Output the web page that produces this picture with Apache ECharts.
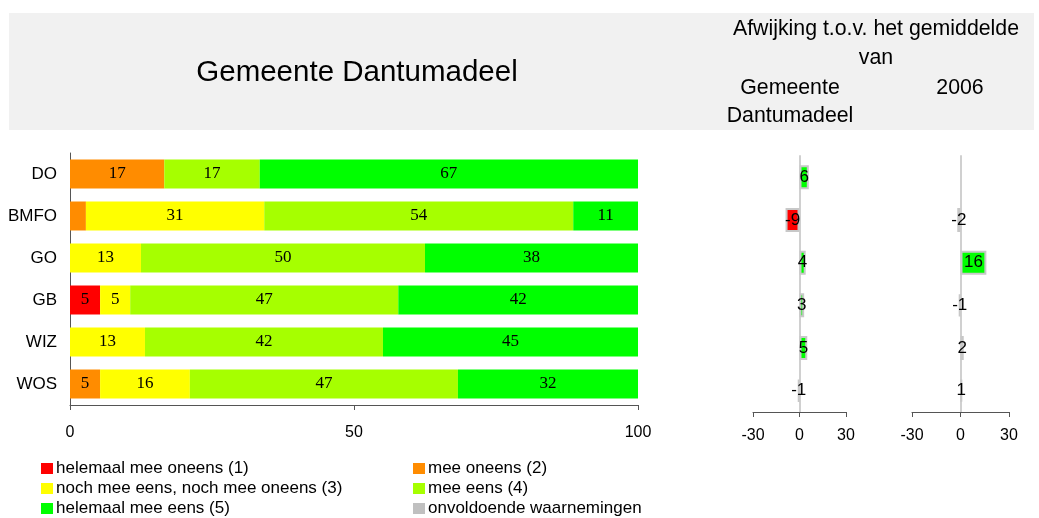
<!DOCTYPE html>
<html>
<head>
<meta charset="utf-8">
<script src="https://cdn.jsdelivr.net/npm/echarts@6/dist/echarts.min.js"></script>
<style>html,body{margin:0;padding:0;background:#fff}#c{width:1039px;height:518px}</style>
</head>
<body>
<div id="c"></div>
<script>
var categories = ['DO', 'BMFO', 'GO', 'GB', 'WIZ', 'WOS'];
var seriesNames = ['helemaal mee oneens (1)', 'mee oneens (2)', 'noch mee eens, noch mee oneens (3)', 'mee eens (4)', 'helemaal mee eens (5)'];
var extraLegend = 'onvoldoende waarnemingen';
var s1 = [0, 0, 0, 5.3, 0, 0];
var s2 = [16.6, 2.8, 0, 0, 0, 5.3];
var s3 = [0, 31.4, 12.5, 5.3, 13.2, 15.8];
var s4 = [16.8, 54.4, 50.0, 47.2, 41.9, 47.2];
var s5 = [66.6, 11.4, 37.5, 42.2, 44.9, 31.7];
var devGemeente = [6, -9, 4, 3, 5, -1];
var dev2006 = [null, -2, 16, -1, 2, 1];
var mainTicks = [0, 50, 100];
var devTicks = [-30, 0, 30];
var title = 'Gemeente Dantumadeel';
var headerLines = ['Afwijking t.o.v. het gemiddelde', 'van'];
var colHead1 = ['Gemeente', 'Dantumadeel'];
var colHead2 = '2006';

var colors = ['#ff0000', '#ff8c00', '#ffff00', '#a6ff00', '#00ff00'];
var gray = '#c0c0c0';
var font = '"Liberation Sans", Arial, sans-serif';
var serif = '"Liberation Serif", "Times New Roman", serif';

var chart = echarts.init(document.getElementById('c'), null, {renderer: 'canvas'});

var mainData = [s1, s2, s3, s4, s5];
var series = mainData.map(function (d, i) {
  return {
    name: seriesNames[i], type: 'bar', stack: 'a', xAxisIndex: 0, yAxisIndex: 0,
    barWidth: 29, data: d, itemStyle: {color: colors[i]},
    label: {
      show: true, position: 'inside', color: '#000', fontFamily: serif, fontSize: 17,
      formatter: function (p) { return p.value >= 4 ? String(Math.round(p.value)) : ''; }
    },
    emphasis: {disabled: true}
  };
});
series.push({name: extraLegend, type: 'bar', stack: 'a', xAxisIndex: 0, yAxisIndex: 0, data: [], itemStyle: {color: gray}});

function devSeries(name, data, idx) {
  return {
    name: name, type: 'bar', xAxisIndex: idx, yAxisIndex: idx, barWidth: 24,
    data: data,
    itemStyle: {
      color: function (p) { return p.value < 0 ? '#ff0000' : '#00ff00'; },
      borderColor: '#c8c8c8', borderWidth: 2
    },
    label: {show: true, position: 'inside', color: '#000', fontFamily: font, fontSize: 17},
    emphasis: {disabled: true}
  };
}
series.push(devSeries('dev1', devGemeente, 1));
series.push(devSeries('dev2', dev2006, 2));

function devX(idx) {
  return {
    gridIndex: idx, type: 'value', min: devTicks[0], max: devTicks[2], interval: devTicks[1] - devTicks[0],
    axisLine: {show: true, onZero: false, lineStyle: {color: '#555', width: 1}},
    axisTick: {show: true, length: 5, lineStyle: {color: '#555'}},
    axisLabel: {color: '#000', fontFamily: font, fontSize: 16, margin: 16},
    splitLine: {show: false}
  };
}
function devY(idx) {
  return {
    gridIndex: idx, type: 'category', data: categories, inverse: true,
    axisLine: {show: true, onZero: true, lineStyle: {color: '#d0d0d0', width: 2}},
    axisTick: {show: false}, axisLabel: {show: false}
  };
}

var legendItems = [
  [seriesNames[0], 41, 460], [seriesNames[2], 41, 480], [seriesNames[4], 41, 500],
  [seriesNames[1], 413, 460], [seriesNames[3], 413, 480], [extraLegend, 413, 500]
];
var legends = legendItems.map(function (it) {
  return {
    data: [it[0]], left: it[1], top: it[2], padding: 0,
    icon: 'rect', itemWidth: 12, itemHeight: 11, selectedMode: false,
    textStyle: {fontFamily: font, fontSize: 17, color: '#000', lineHeight: 17, padding: [0, 0, 0, -2]}
  };
});

var option = {
  animation: false,
  backgroundColor: '#fff',
  graphic: [
    {type: 'rect', shape: {x: 9, y: 13, width: 1025, height: 117}, style: {fill: '#f1f1f1'}, z: -10},
    {type: 'text', x: 357, y: 73, style: {text: title, font: '29.5px ' + font, fill: '#000', textAlign: 'center', textVerticalAlign: 'middle'}},
    {type: 'text', x: 876, y: 29, style: {text: headerLines[0], font: '21.3px ' + font, fill: '#000', textAlign: 'center', textVerticalAlign: 'middle'}},
    {type: 'text', x: 876, y: 58, style: {text: headerLines[1], font: '21.3px ' + font, fill: '#000', textAlign: 'center', textVerticalAlign: 'middle'}},
    {type: 'text', x: 790, y: 88, style: {text: colHead1[0], font: '21.3px ' + font, fill: '#000', textAlign: 'center', textVerticalAlign: 'middle'}},
    {type: 'text', x: 790, y: 116, style: {text: colHead1[1], font: '21.3px ' + font, fill: '#000', textAlign: 'center', textVerticalAlign: 'middle'}},
    {type: 'text', x: 960, y: 88, style: {text: colHead2, font: '21.3px ' + font, fill: '#000', textAlign: 'center', textVerticalAlign: 'middle'}}
  ],
  legend: legends,
  grid: [
    {left: 70, width: 568, top: 153, height: 252, containLabel: false},
    {left: 753, width: 93, top: 156, height: 256, containLabel: false},
    {left: 912, width: 97, top: 156, height: 256, containLabel: false}
  ],
  xAxis: [
    {
      gridIndex: 0, type: 'value', min: mainTicks[0], max: mainTicks[2], interval: mainTicks[1] - mainTicks[0],
      axisLine: {show: true, lineStyle: {color: '#555', width: 1}},
      axisTick: {show: true, length: 5, lineStyle: {color: '#555'}},
      axisLabel: {color: '#000', fontFamily: font, fontSize: 16, margin: 20},
      splitLine: {show: false}
    },
    devX(1), devX(2)
  ],
  yAxis: [
    {
      gridIndex: 0, type: 'category', data: categories, inverse: true,
      axisLine: {show: true, lineStyle: {color: '#555', width: 1}},
      axisTick: {show: false},
      axisLabel: {color: '#000', fontFamily: font, fontSize: 17, margin: 13}
    },
    devY(1), devY(2)
  ],
  series: series
};
chart.setOption(option);
</script>
</body>
</html>
